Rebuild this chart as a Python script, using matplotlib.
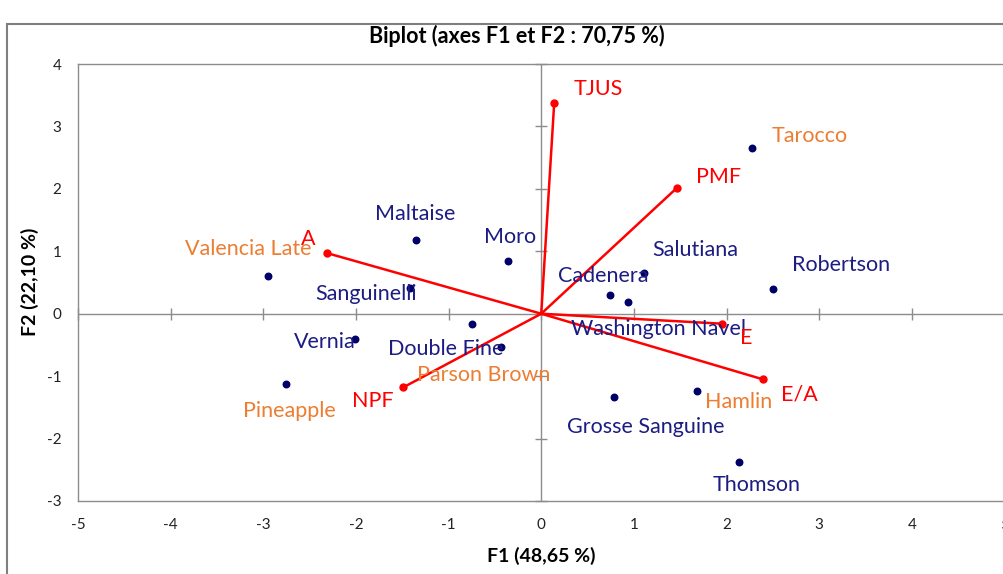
import matplotlib
matplotlib.use('Agg')
import matplotlib.pyplot as plt
from matplotlib.patches import Rectangle

plt.rcParams['font.family'] = ['Lato', 'DejaVu Sans']
plt.rcParams['axes.unicode_minus'] = False

# observations (F1, F2)
obs_names = ['Valencia Late', 'Maltaise', 'Moro', 'Sanguinelli', 'Vernia', 'Pineapple',
             'Double Fine', 'Parson Brown', 'Salutiana', 'Cadenera', 'Washington Navel',
             'Robertson', 'Tarocco', 'Hamlin', 'Grosse Sanguine', 'Thomson']
obs_f1 = [-2.95, -1.35, -0.36, -1.42, -2.01, -2.75, -0.75, -0.43, 1.11, 0.74, 0.94,
          2.50, 2.28, 1.68, 0.79, 2.13]
obs_f2 = [0.61, 1.18, 0.85, 0.41, -0.41, -1.13, -0.16, -0.53, 0.65, 0.30, 0.18,
          0.40, 2.65, -1.24, -1.34, -2.38]
obs_group = ['b', 'a', 'a', 'a', 'a', 'b', 'a', 'b', 'a', 'a', 'a',
             'a', 'b', 'b', 'a', 'a']

# variables (F1, F2)
var_names = ['TJUS', 'PMF', 'A', 'E', 'E/A', 'NPF']
var_f1 = [0.14, 1.46, -2.31, 1.95, 2.39, -1.49]
var_f2 = [3.38, 2.01, 0.97, -0.16, -1.05, -1.18]

x_ticks = [-5, -4, -3, -2, -1, 0, 1, 2, 3, 4, 5]
y_ticks = [-3, -2, -1, 0, 1, 2, 3, 4]

# label offsets in points
obs_offsets = [(-60, 19), (-30, 19), (-17, 17), (-68, -4), (-44, -2), (-31, -19),
               (-60, -18), (-61, -20), (6, 17), (-37, 14), (-41, -19),
               (14, 17), (14, 9), (6, -8), (-34, -21), (-19, -16)]
var_offsets = [(14, 10), (14, 8), (-19, 10), (13, -10), (13, -11), (-37, -10)]

navy = '#1c1c82'
dot_navy = '#000066'
orange = '#ED7D31'
red = '#FF0000'
grey = '#8c8c8c'
group_colors = {'a': navy, 'b': orange}

fig = plt.figure(figsize=(10.04, 5.74), dpi=100)
fig.patches.append(Rectangle((7 / 1004, -0.01), 1.1, 1 - 24 / 574 + 0.01,
                             transform=fig.transFigure, fill=False,
                             edgecolor='#7f7f7f', linewidth=1.5))

ax = fig.add_axes([78 / 1004, 73 / 574, 926.5 / 1004, 437 / 574])
ax.set_xlim(-5, 5)
ax.set_ylim(-3, 4)
for side in ['left', 'bottom', 'top']:
    ax.spines[side].set_color(grey)
    ax.spines[side].set_linewidth(1)
ax.spines['right'].set_visible(False)
ax.set_xticks(x_ticks)
ax.set_yticks(y_ticks)
ax.tick_params(length=0, labelsize=11, pad=12, colors='#222222')

# axes through origin with cross ticks
ax.axhline(0, color=grey, lw=1, zorder=1)
ax.axvline(0, color=grey, lw=1, zorder=1)
ax.plot(x_ticks, [0] * len(x_ticks), ls='none', marker='|', ms=9, mew=1, color=grey,
        zorder=1, clip_on=False)
ax.plot([0] * len(y_ticks), y_ticks, ls='none', marker='_', ms=9, mew=1, color=grey,
        zorder=1, clip_on=False)

# observations
ax.scatter(obs_f1, obs_f2, s=22, color=dot_navy, zorder=3)
for name, x, y, g, off in zip(obs_names, obs_f1, obs_f2, obs_group, obs_offsets):
    ax.annotate(name, (x, y), xytext=off, textcoords='offset points',
                ha='left', va='center', fontsize=15.5, color=group_colors[g], zorder=5)

# variables
for name, x, y, off in zip(var_names, var_f1, var_f2, var_offsets):
    ax.plot([0, x], [0, y], color=red, lw=1.8, zorder=4)
    ax.plot(x, y, 'o', color=red, ms=5, zorder=4)
    ax.annotate(name, (x, y), xytext=off, textcoords='offset points',
                ha='left', va='center', fontsize=15.5, color=red, zorder=5)

fig.text(517 / 1004, 1 - 36 / 574, 'Biplot (axes F1 et F2 : 70,75 %)', ha='center',
         va='center', fontsize=15.5, fontweight='bold')
fig.text(541 / 1004, 1 - 556 / 574, 'F1 (48,65 %)', ha='center', va='center',
         fontsize=14, fontweight='bold')
fig.text(30 / 1004, 1 - 282 / 574, 'F2 (22,10 %)', ha='center', va='center',
         fontsize=14, fontweight='bold', rotation=90)

fig.savefig('out.png', dpi=100)
